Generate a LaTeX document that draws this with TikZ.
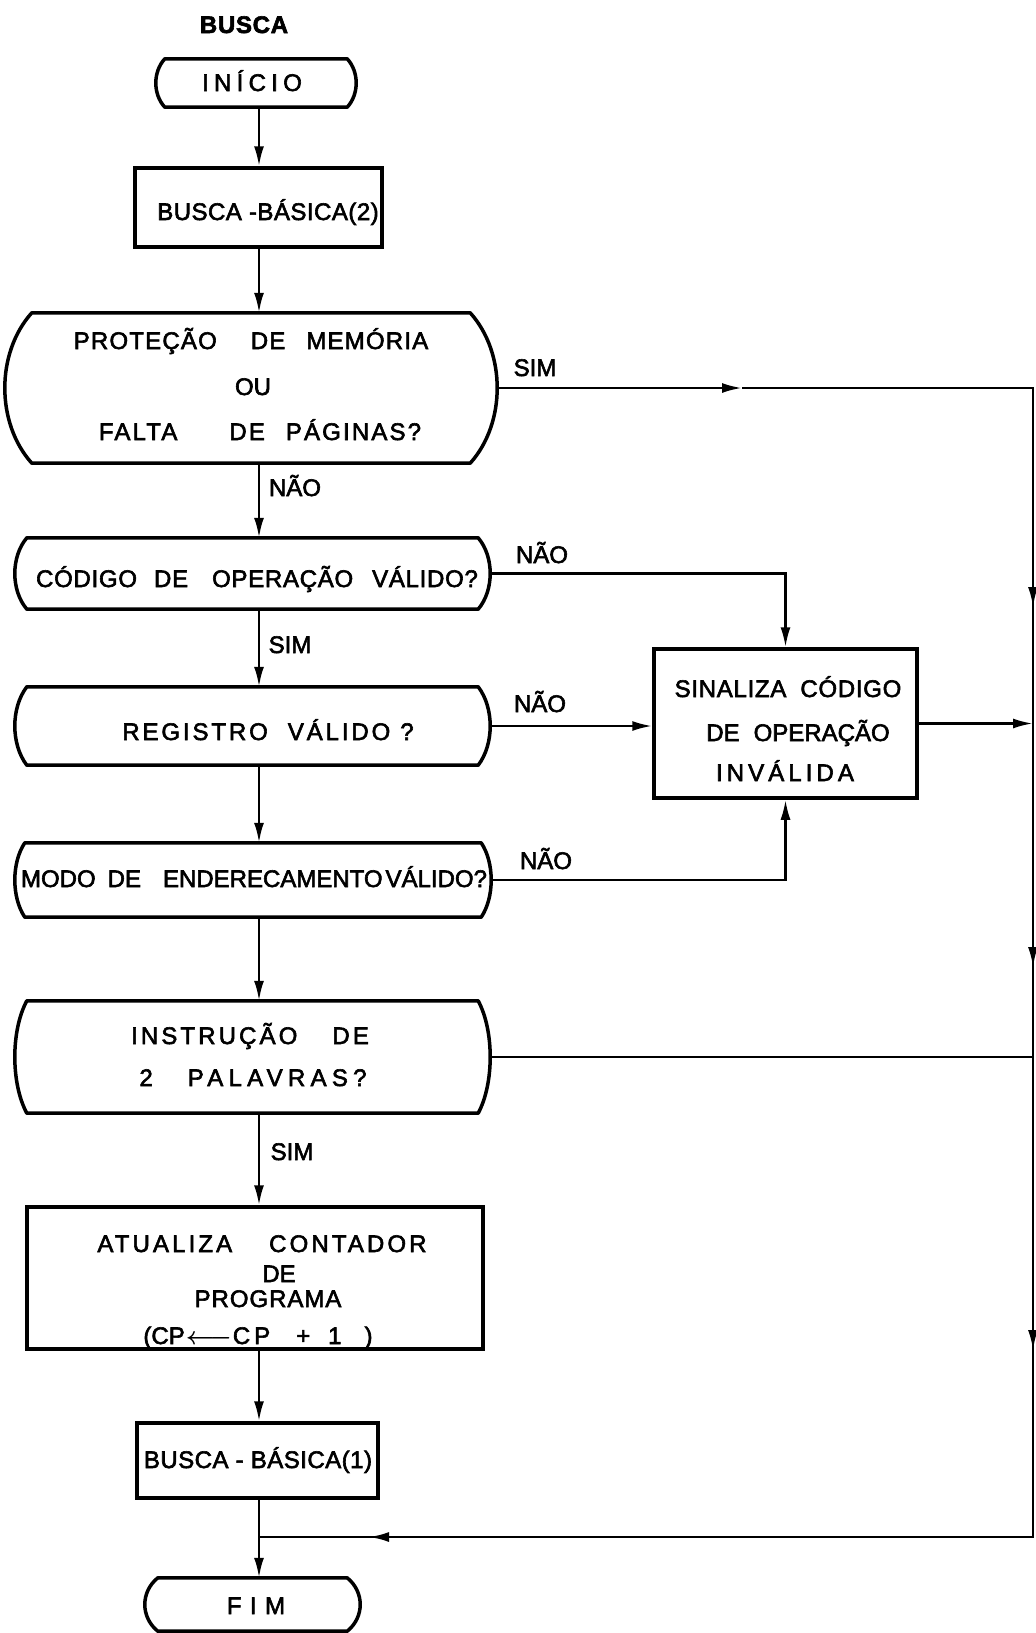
\documentclass[tikz,border=0pt]{standalone}
\usepackage{fontspec}
\setmainfont{Liberation Sans}[FakeBold=2.5]
\usetikzlibrary{arrows.meta}

% tracked lettering: #1 = letter spacing (percent of font size)
\newcommand\spaced[2]{{\addfontfeature{LetterSpace=#1}#2}}

% outline with straight top/bottom and outward-bulging sides
% #1 node, #2 bulge, #3 vertical control offset
\newcommand\curvedsides[3]{%
  \draw[outline] ([xshift=#2pt]#1.north west) -- ([xshift=-#2pt]#1.north east)
    .. controls +({4*#2/3},#3) and +({4*#2/3},-#3) .. ([xshift=-#2pt]#1.south east)
    -- ([xshift=#2pt]#1.south west)
    .. controls +({-4*#2/3},-#3) and +({-4*#2/3},#3) .. ([xshift=#2pt]#1.north west)
    -- cycle;}

\begin{document}
\begin{tikzpicture}[x=1pt,y=-1pt,
  outline/.style={line width=3.5pt,line join=round},
  procbox/.style={draw,line width=3.5pt,rectangle,inner sep=0pt},
  roundbox/.style={draw=none,rectangle,inner sep=0pt},
  conn/.style={line width=2.5pt},
  arr/.style={conn,-{Latex[length=20pt,width=10pt]}},
  txt/.style={anchor=base,inner sep=0pt,font=\fontsize{24}{28}\selectfont}]
\useasboundingbox (0,0) rectangle (1036,1633);

% ---- shapes ----
\node[roundbox,minimum width=200pt,minimum height=48pt] (ini) at (256,83) {};
\curvedsides{ini}{9}{13}
\node[procbox,minimum width=247pt,minimum height=79pt] (bb2) at (258.5,207.5) {};
\node[roundbox,minimum width=492pt,minimum height=150pt] (d1) at (251,388) {};
\curvedsides{d1}{27}{40}
\node[roundbox,minimum width=475pt,minimum height=71pt] (d2) at (252.5,573.5) {};
\curvedsides{d2}{12}{19}
\node[roundbox,minimum width=475pt,minimum height=78pt] (d3) at (252.5,726) {};
\curvedsides{d3}{12}{21}
\node[roundbox,minimum width=476pt,minimum height=74pt] (d4) at (253,880) {};
\curvedsides{d4}{10}{20}
\node[roundbox,minimum width=475pt,minimum height=112pt] (d5) at (252.5,1057) {};
\curvedsides{d5}{12}{30}
\node[procbox,minimum width=456pt,minimum height=142pt] (upd) at (255,1278) {};
\node[procbox,minimum width=241pt,minimum height=75pt] (bb1) at (257.5,1460.5) {};
\node[roundbox,minimum width=215pt,minimum height=53pt] (fim) at (252.5,1604.5) {};
\curvedsides{fim}{13}{14}
\node[procbox,minimum width=263pt,minimum height=149pt] (sin) at (785.5,723.5) {};

% ---- texts ----
\node[txt] (title) at (244,33) {\bfseries\spaced{3}{BUSCA}};
\node[txt] (t-ini) at (252,91) {\spaced{22}{INÍCIO}};
\node[txt] (t-bb2) at (268,220) {\spaced{2}{BUSCA -BÁSICA(2)}};
\node[txt] (t-d1a) at (251,349) {\spaced{5}{PROTEÇÃO\hspace{34pt}DE\hspace{21pt}MEMÓRIA}};
\node[txt] (t-d1b) at (253,395) {OU};
\node[txt] (t-d1c) at (260,440) {\spaced{9}{FALTA\hspace{52pt}DE\hspace{21pt}PÁGINAS?}};
\node[txt] (t-d2) at (257,587) {\spaced{3}{CÓDIGO\hspace{17pt}DE\hspace{24pt}OPERAÇÃO\hspace{19pt}VÁLIDO?}};
\node[txt] (t-d3) at (268,740) {\spaced{12}{REGISTRO\hspace{20pt}VÁLIDO\hspace{10pt}?}};
\node[txt] (t-d4) at (254,887) {MODO\hspace{12pt}DE\hspace{22pt}ENDERECAMENTO\hspace{3pt}VÁLIDO?};
\node[txt] (t-sa) at (788,697) {\spaced{3}{SINALIZA\hspace{14pt}CÓDIGO}};
\node[txt] (t-sb) at (798,741) {DE\hspace{14pt}OPERAÇÃO};
\node[txt] (t-sc) at (785,781) {\spaced{17}{INVÁLIDA}};
\node[txt] (t-d5a) at (250,1044) {\spaced{13}{INSTRUÇÃO\hspace{35pt}DE}};
\node[txt] (t-d5b) at (253,1086) {\spaced{22}{2\hspace{35pt}PALAVRAS?}};
\node[txt] (t-ua) at (262,1252) {\spaced{13}{ATUALIZA\hspace{37pt}CONTADOR}};
\node[txt] (t-ub) at (279,1282) {DE};
\node[txt] (t-uc) at (268,1307) {\spaced{4}{PROGRAMA}};
\node[txt] (t-ud) at (258,1344) {(CP\hspace{1pt}{\boldmath$\longleftarrow$}\hspace{1pt}C\hspace{4pt}P\hspace{26pt}+\hspace{18pt}1\hspace{23pt})};
\node[txt] (t-bb1) at (258,1468) {\spaced{2}{BUSCA - BÁSICA(1)}};
\node[txt] (t-fim) at (256,1614) {\spaced{35}{FIM}};

% ---- branch labels ----
\node[txt] (l-d1n) at (295,496) {NÃO};
\node[txt] (l-d1s) at (535,376) {SIM};
\node[txt] (l-d2n) at (542,563) {NÃO};
\node[txt] (l-d2s) at (290,653) {SIM};
\node[txt] (l-d3n) at (540,712) {NÃO};
\node[txt] (l-d4n) at (546,869) {NÃO};
\node[txt] (l-d5s) at (292,1160) {SIM};

% ---- guide coordinates ----
\coordinate (ax) at (259,0);
\coordinate (rx) at (1033,0);
\coordinate (simtip) at (742,0);
\coordinate (rt1) at (1033,607);
\coordinate (rt2) at (1033,967);
\coordinate (rt3) at (1033,1350);
\coordinate (ret) at (1033,1537);
\coordinate (rettip) at (369,1537);
\coordinate (join) at (259,1537);

% ---- main flow ----
\draw[arr] (ini.south -| ax) -- (bb2.north -| ax);
\draw[arr] (bb2.south -| ax) -- (d1.north -| ax);
\draw[arr] (d1.south -| ax) -- (d2.north -| ax);
\draw[arr] (d2.south -| ax) -- (d3.north -| ax);
\draw[arr] (d3.south -| ax) -- (d4.north -| ax);
\draw[arr] (d4.south -| ax) -- (d5.north -| ax);
\draw[arr] (d5.south -| ax) -- (upd.north -| ax);
\draw[arr] (upd.south -| ax) -- (bb1.north -| ax);
\draw[arr] (bb1.south -| ax) -- (fim.north -| ax);

% ---- right-hand bypass ----
\draw[conn,line join=miter] (d1.east -| simtip) -- (d1.east -| rx) -- (ret) -- (join);
\draw[arr] (d1.east) -- (d1.east -| simtip);
\draw[arr] (d1.east -| rx) -- (rt1);
\draw[arr] (rt1) -- (rt2);
\draw[arr] (rt2) -- (rt3);
\draw[arr] (ret) -- (rettip);
\draw[conn] (d5.east) -- (d5.east -| rx);

% ---- invalid-code branches ----
\draw[arr] (d2.east) -- (d2.east -| sin.north) -- (sin.north);
\draw[arr] (d3.east) -- (d3.east -| sin.west);
\draw[arr] (d4.east) -- (d4.east -| sin.south) -- (sin.south);
\draw[arr] (sin.east) -- (sin.east -| rx);
\end{tikzpicture}
\end{document}
